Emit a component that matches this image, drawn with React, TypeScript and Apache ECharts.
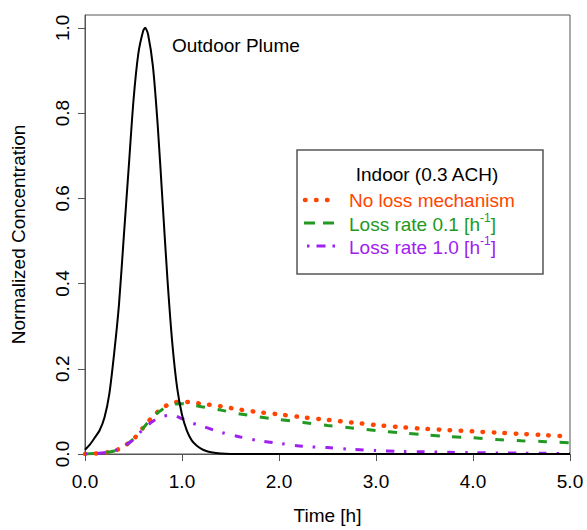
import React, { useEffect, useRef } from "react";
import * as echarts from "echarts";

// Outdoor plume (solid black)
const outdoorTime = [0, 0.05, 0.1, 0.15, 0.2, 0.25, 0.3, 0.35, 0.4, 0.45, 0.5, 0.55, 0.6, 0.62, 0.65, 0.7, 0.75, 0.8, 0.85, 0.9, 0.95, 1.0, 1.05, 1.1, 1.15, 1.2, 1.25, 1.3, 1.4, 1.5, 2, 3, 4, 5];
const outdoorConc = [0.01, 0.022, 0.038, 0.055, 0.085, 0.14, 0.235, 0.35, 0.51, 0.67, 0.83, 0.94, 0.993, 1.0, 0.985, 0.91, 0.77, 0.59, 0.41, 0.26, 0.155, 0.092, 0.055, 0.032, 0.02, 0.012, 0.007, 0.004, 0.001, 0, 0, 0, 0, 0];

// Indoor curves
const indoorTime = [0, 0.1, 0.2, 0.3, 0.4, 0.5, 0.6, 0.7, 0.8, 0.9, 1.0, 1.1, 1.2, 1.4, 1.6, 1.8, 2.0, 2.25, 2.5, 2.75, 3.0, 3.25, 3.5, 3.75, 4.0, 4.25, 4.5, 4.75, 5.0];
const noLoss = [0, 0.001, 0.003, 0.007, 0.018, 0.035, 0.062, 0.088, 0.108, 0.12, 0.123, 0.121, 0.118, 0.112, 0.104, 0.098, 0.093, 0.086, 0.08, 0.074, 0.068, 0.063, 0.059, 0.056, 0.053, 0.05, 0.047, 0.044, 0.041];
const loss01 = [0, 0.001, 0.003, 0.007, 0.018, 0.035, 0.061, 0.087, 0.105, 0.116, 0.118, 0.115, 0.111, 0.103, 0.094, 0.087, 0.081, 0.074, 0.067, 0.061, 0.055, 0.05, 0.045, 0.041, 0.038, 0.034, 0.031, 0.029, 0.026];
const loss10 = [0, 0.001, 0.003, 0.007, 0.018, 0.034, 0.058, 0.077, 0.088, 0.091, 0.083, 0.073, 0.066, 0.051, 0.04, 0.031, 0.025, 0.018, 0.015, 0.011, 0.008, 0.006, 0.005, 0.004, 0.003, 0.0025, 0.002, 0.0015, 0.001];

const xTicks = [0, 1, 2, 3, 4, 5];
const yTicks = [0, 0.2, 0.4, 0.6, 0.8, 1.0];

const legendTitle = "Indoor (0.3 ACH)";
const seriesNames = ["No loss mechanism", "Loss rate 0.1 [h-1]", "Loss rate 1.0 [h-1]"];

const FONT = "'Liberation Sans', Arial, Helvetica, sans-serif";
const FS = 19;
const ORANGE = "#FF4500";
const GREEN = "#229922";
const PURPLE = "#A020F0";

function pairs(xs: number[], ys: number[]) {
  return xs.map((x, i) => [x, ys[i]]);
}

export default function App() {
  const ref = useRef<HTMLDivElement>(null);
  useEffect(() => {
    if (!ref.current) return;
    const chart = echarts.init(ref.current, undefined, { renderer: "svg" });
    const lx = 297, ly = 150;
    const rowY = [200, 223, 246];
    const richFor = (color: string) => ({
      a: { fontFamily: FONT, fontSize: FS, fill: color, lineHeight: 22, verticalAlign: "bottom" },
      s: { fontFamily: FONT, fontSize: 12, fill: color, lineHeight: 22, verticalAlign: "top" },
    });
    const option: any = {
      animation: false,
      grid: {
        left: 85, right: 17, top: 15, bottom: 69,
        show: true, borderColor: "#555", borderWidth: 1, backgroundColor: "transparent",
      },
      xAxis: {
        type: "value", min: 0, max: 5, interval: 1,
        name: "Time [h]", nameLocation: "middle", nameGap: 52,
        nameTextStyle: { fontFamily: FONT, fontSize: FS, color: "#000" },
        axisLine: { show: true, lineStyle: { color: "#555", width: 1 } },
        axisTick: { show: true, inside: false, length: 7, lineStyle: { color: "#555" }, customValues: xTicks },
        axisLabel: { fontFamily: FONT, fontSize: FS, color: "#000", margin: 18, customValues: xTicks, formatter: (v: number) => v.toFixed(1) },
        splitLine: { show: false },
      },
      yAxis: {
        type: "value", min: 0, max: 1.03,
        name: "Normalized Concentration", nameLocation: "middle", nameGap: 57,
        nameTextStyle: { fontFamily: FONT, fontSize: FS, color: "#000" },
        axisLine: { show: true, lineStyle: { color: "#555", width: 1 } },
        axisTick: { show: true, inside: false, length: 7, lineStyle: { color: "#555" }, customValues: yTicks },
        axisLabel: { fontFamily: FONT, fontSize: FS, color: "#000", rotate: 90, margin: 13, customValues: yTicks, formatter: (v: number) => v.toFixed(1) },
        splitLine: { show: false },
      },
      series: [
        {
          name: "Outdoor Plume", type: "line", data: pairs(outdoorTime, outdoorConc),
          showSymbol: false, smooth: 0.25, z: 5,
          lineStyle: { color: "#000", width: 2 },
        },
        {
          name: seriesNames[0], type: "line", data: pairs(indoorTime, noLoss),
          showSymbol: false, smooth: 0.3, z: 3,
          lineStyle: { color: ORANGE, width: 4.5, type: [0.5, 10.5], cap: "round" },
        },
        {
          name: seriesNames[1], type: "line", data: pairs(indoorTime, loss01),
          showSymbol: false, smooth: 0.3, z: 3,
          lineStyle: { color: GREEN, width: 3, type: [9, 12.5], cap: "butt" },
        },
        {
          name: seriesNames[2], type: "line", data: pairs(indoorTime, loss10),
          showSymbol: false, smooth: 0.3, z: 3,
          lineStyle: { color: PURPLE, width: 3, type: [2.5, 10, 8, 10], cap: "butt" },
        },
      ],
      graphic: [
        {
          type: "text", left: 172, top: 36,
          style: { text: "Outdoor Plume", fontFamily: FONT, fontSize: FS, fill: "#000" },
        },
        {
          type: "group", x: lx, y: ly,
          children: [
            { type: "rect", shape: { x: 0, y: 0, width: 246, height: 124 }, style: { fill: "#fff", stroke: "#555", lineWidth: 1.5 } },
            { type: "text", x: 130, y: 24, style: { text: legendTitle, fontFamily: FONT, fontSize: FS, fill: "#000", align: "center", verticalAlign: "middle" } },
            { type: "line", shape: { x1: 8, y1: rowY[0] - ly, x2: 40, y2: rowY[0] - ly }, style: { stroke: ORANGE, lineWidth: 4.5, lineDash: [0.5, 10.5], lineCap: "round" } },
            { type: "line", shape: { x1: 7, y1: rowY[1] - ly, x2: 40, y2: rowY[1] - ly }, style: { stroke: GREEN, lineWidth: 3, lineDash: [11, 8] } },
            { type: "line", shape: { x1: 10, y1: rowY[2] - ly, x2: 42, y2: rowY[2] - ly }, style: { stroke: PURPLE, lineWidth: 3, lineDash: [2.5, 7, 9, 7] } },
            { type: "text", x: 52, y: rowY[0] - ly, style: { text: seriesNames[0], fontFamily: FONT, fontSize: FS, fill: ORANGE, verticalAlign: "middle" } },
            {
              type: "text", x: 52, y: rowY[1] - ly,
              style: { text: "{a|Loss rate 0.1 [h}{s|-1}{a|]}", fontFamily: FONT, fontSize: FS, fill: GREEN, verticalAlign: "middle", rich: richFor(GREEN) },
            },
            {
              type: "text", x: 52, y: rowY[2] - ly,
              style: { text: "{a|Loss rate 1.0 [h}{s|-1}{a|]}", fontFamily: FONT, fontSize: FS, fill: PURPLE, verticalAlign: "middle", rich: richFor(PURPLE) },
            },
          ],
        },
      ],
    };
    chart.setOption(option);
    return () => chart.dispose();
  }, []);
  return (
    <div
      ref={ref}
      style={{ position: "fixed", left: 0, top: 0, width: 587, height: 530, background: "#fff" }}
    />
  );
}
